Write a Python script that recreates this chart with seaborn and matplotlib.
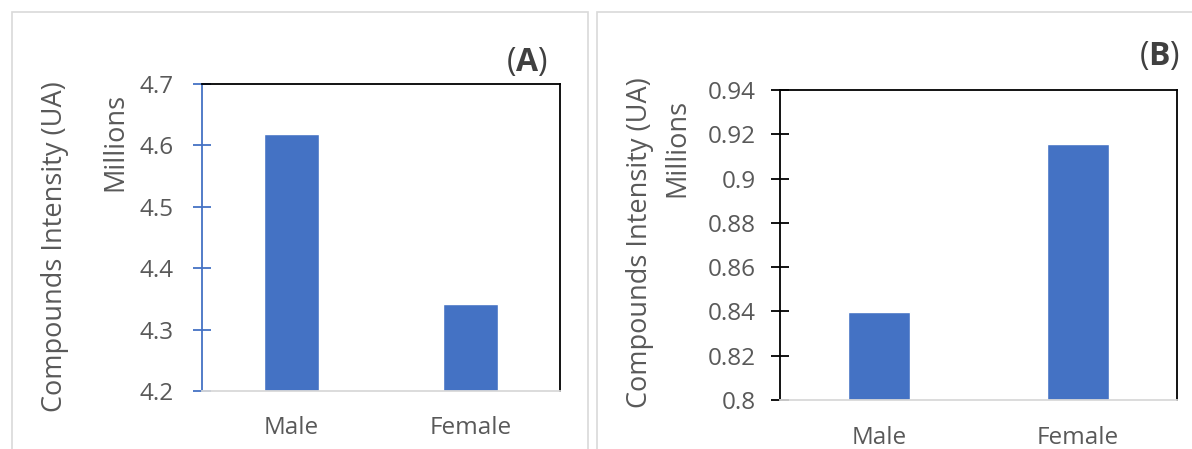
import matplotlib
matplotlib.use("Agg")
import matplotlib.pyplot as plt
import seaborn as sns
from matplotlib.patches import Rectangle

# ---- data ----
categories = ["Male", "Female"]
values_a = [4.619, 4.341]          # millions
values_b = [0.8396, 0.9155]        # millions
yticks_a = [4.2, 4.3, 4.4, 4.5, 4.6, 4.7]
yticklabels_a = ["4.2", "4.3", "4.4", "4.5", "4.6", "4.7"]
yticks_b = [0.80, 0.82, 0.84, 0.86, 0.88, 0.90, 0.92, 0.94]
yticklabels_b = ["0.8", "0.82", "0.84", "0.86", "0.88", "0.9", "0.92", "0.94"]
ylabel = "Compounds Intensity (UA)"
unit_label = "Millions"

sns.set_theme(style="white")
plt.rcParams["font.family"] = ["Open Sans", "DejaVu Sans"]
plt.rcParams["mathtext.fontset"] = "custom"
plt.rcParams["mathtext.bf"] = "Open Sans:bold"
plt.rcParams["mathtext.rm"] = "Open Sans"

BAR = "#4472C4"
TXT = "#595959"
W, H = 1192, 449
fig = plt.figure(figsize=(W / 100, H / 100), dpi=100)
fig.patch.set_facecolor("white")

def fx(px):
    return px / W

def fy(py):
    return 1 - py / H

# panel frames
fig.patches.append(Rectangle((fx(12), fy(460)), fx(576), 448 / H, transform=fig.transFigure,
                             fill=False, edgecolor="#D9D9D9", lw=1.2))
fig.patches.append(Rectangle((fx(597), fy(460)), fx(620), 448 / H, transform=fig.transFigure,
                             fill=False, edgecolor="#D9D9D9", lw=1.2))

def make_panel(rect, values, yticks, yticklabels, left_color, ypad, xpad):
    ax = fig.add_axes(rect)
    sns.barplot(x=categories, y=values, ax=ax, color=BAR, saturation=1, width=0.31)
    ax.set_ylim(yticks[0], yticks[-1])
    ax.set_xlim(-0.5, 1.5)
    ax.set_yticks(yticks)
    ax.set_yticklabels(yticklabels)
    ax.set_xlabel("")
    ax.set_ylabel("")
    for s in ["top", "right"]:
        ax.spines[s].set_color("black")
        ax.spines[s].set_linewidth(1.3)
    ax.spines["left"].set_color(left_color)
    ax.spines["left"].set_linewidth(1.3)
    ax.spines["bottom"].set_color("#D9D9D9")
    ax.spines["bottom"].set_linewidth(1.3)
    ax.tick_params(axis="y", direction="inout", length=13, width=1.3, color=left_color,
                   labelsize=17.5, labelcolor=TXT, pad=ypad, left=True)
    ax.tick_params(axis="x", length=0, labelsize=17.5, labelcolor=TXT, pad=xpad)
    return ax

axA = make_panel([fx(202), fy(391), fx(358), 307 / H], values_a, yticks_a, yticklabels_a, BAR, 14, 18)
axB = make_panel([fx(780), fy(400), fx(397), 310 / H], values_b, yticks_b, yticklabels_b, "black", 11, 19)

# axis titles
fig.text(fx(55), fy(247), ylabel, rotation=90, ha="center", va="center", fontsize=19.5, color=TXT)
fig.text(fx(115), fy(142), unit_label, rotation=90, ha="center", va="center", fontsize=19.5, color=TXT)
fig.text(fx(640), fy(243), ylabel, rotation=90, ha="center", va="center", fontsize=19.5, color=TXT)
fig.text(fx(677), fy(148), unit_label, rotation=90, ha="center", va="center", fontsize=19.5, color=TXT)

# panel letters
fig.text(fx(527), fy(62), r"($\mathbf{A}$)", ha="center", va="center", fontsize=23, color="#404040")
fig.text(fx(1160), fy(56), r"($\mathbf{B}$)", ha="center", va="center", fontsize=23, color="#404040")

fig.savefig("out.png", dpi=100, facecolor="white")
